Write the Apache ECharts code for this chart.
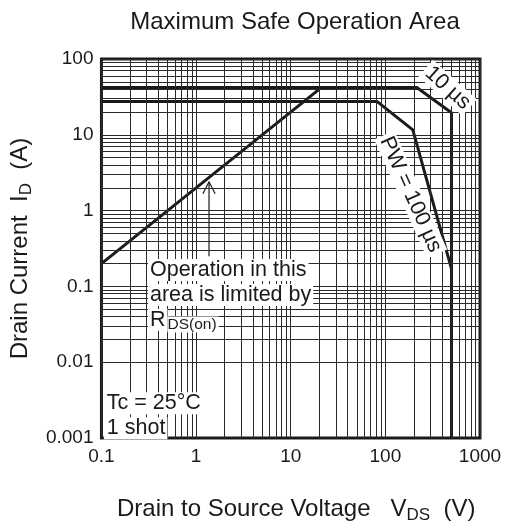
<!DOCTYPE html>
<html><head><meta charset="utf-8">
<script src="https://cdn.jsdelivr.net/npm/echarts@6/dist/echarts.min.js"></script>
<style>html,body{margin:0;padding:0;background:#fff}#c{width:505px;height:529px}</style>
</head><body><div id="c"></div>
<script>
// ---- data ----
const xTicks = [0.1, 1, 10, 100, 1000];
const yTicks = [0.001, 0.01, 0.1, 1, 10, 100];
const gridMult = [1, 2, 3, 4, 5, 6, 7, 8, 9];
const pw10us = [[0.1, 42], [215, 42], [500, 19.5], [500, 0.001]];
const pw100us = [[0.1, 27.4], [82, 27.4], [195, 11.6], [500, 0.17]];
const rdsLimit = [[0.1, 0.2], [21, 42]];
const arrowShaft = [[1.37, 0.25], [1.37, 2.4]];
const arrowHead = [[1.18, 1.67], [1.37, 2.4], [1.59, 1.67]];
const noteOperation = [0.31, 0.241];
const noteTc = [0.106, 0.0042];
const note10us = [455, 41.5];
const note100us = [185, 1.63];

// ---- build grid line values ----
const vLines = [];
for (let i = 0; i < xTicks.length - 1; i++) gridMult.forEach(m => vLines.push(+(xTicks[i] * m).toPrecision(3)));
vLines.push(xTicks[xTicks.length - 1]);
const hLines = [];
for (let i = 0; i < yTicks.length - 1; i++) gridMult.forEach(m => hLines.push(+(yTicks[i] * m).toPrecision(3)));
hLines.push(yTicks[yTicks.length - 1]);

const FONT = "'Liberation Sans', Arial, Helvetica, sans-serif";
const INK = '#1a1a1a';
const thick = { color: INK, width: 3 };

const chart = echarts.init(document.getElementById('c'), null, { renderer: 'canvas' });
const fmt = v => String(+(+v).toPrecision(3));

chart.setOption({
  animation: false,
  backgroundColor: '#fff',
  textStyle: { fontFamily: FONT },
  title: {
    text: 'Maximum Safe Operation Area',
    left: 290, top: 5, textAlign: 'center',
    textStyle: { fontFamily: FONT, fontSize: 24, fontWeight: 'normal', color: INK }
  },
  grid: { left: 100, right: 25, top: 59, bottom: 90, show: true, borderColor: INK, borderWidth: 3, backgroundColor: 'transparent' },
  xAxis: {
    type: 'log', logBase: 10, min: 0.1, max: 1000,
    axisLine: { show: false }, axisTick: { show: false }, splitLine: { show: false },
    axisLabel: { formatter: fmt, fontSize: 19, color: INK, margin: 9, fontFamily: FONT },
    name: '{t|Drain to Source Voltage   V}{s|DS}{t|  (V)}',
    nameLocation: 'middle', nameGap: 56,
    nameTextStyle: {
      padding: [0, 0, 0, 11],
      rich: {
        t: { fontSize: 24, lineHeight: 30, color: INK, fontFamily: FONT },
        s: { fontSize: 17, lineHeight: 17, verticalAlign: 'bottom', color: INK, fontFamily: FONT }
      }
    }
  },
  yAxis: {
    type: 'log', logBase: 10, min: 0.001, max: 100,
    axisLine: { show: false }, axisTick: { show: false }, splitLine: { show: false },
    axisLabel: { formatter: fmt, fontSize: 19, color: INK, margin: 8, fontFamily: FONT },
    name: '{t|Drain Current  I}{s|D}{t|  (A)}',
    nameLocation: 'middle', nameGap: 63, nameRotate: 90,
    nameTextStyle: {
      rich: {
        t: { fontSize: 24, lineHeight: 30, color: INK, fontFamily: FONT },
        s: { fontSize: 17, lineHeight: 17, verticalAlign: 'bottom', color: INK, fontFamily: FONT }
      }
    }
  },
  series: [
    {
      type: 'line', data: [], silent: true, z: 1,
      markLine: {
        silent: true, symbol: ['none', 'none'], label: { show: false },
        lineStyle: { color: '#2a2a2a', width: 1, type: 'solid' },
        data: vLines.map(v => ({ xAxis: v })).concat(hLines.map(v => ({ yAxis: v })))
      }
    },
    { type: 'line', data: pw10us, symbol: 'none', lineStyle: thick, z: 3, silent: true },
    { type: 'line', data: pw100us, symbol: 'none', lineStyle: thick, z: 3, silent: true },
    { type: 'line', data: rdsLimit, symbol: 'none', lineStyle: thick, z: 3, silent: true },
    { type: 'line', data: arrowShaft, symbol: 'none', lineStyle: { color: INK, width: 1.2 }, z: 3, silent: true },
    { type: 'line', data: arrowHead, symbol: 'none', lineStyle: { color: INK, width: 1.2 }, z: 3, silent: true },
    {
      type: 'line', data: [], z: 5, silent: true,
      markPoint: {
        silent: true, symbol: 'circle', symbolSize: 0,
        data: [
          {
            coord: noteOperation,
            label: {
              show: true, position: [0, 0], align: 'left', verticalAlign: 'top',
              formatter: '{a|Operation in this}\n{a|area is limited by}\n{a|R}{s|DS(on)}',
              rich: {
                a: { fontSize: 21.5, lineHeight: 25, color: INK, backgroundColor: '#fff', padding: [0, 2, 0, 2], fontFamily: FONT },
                s: { fontSize: 15.5, lineHeight: 15, verticalAlign: 'bottom', color: INK, backgroundColor: '#fff', padding: [0, 2, 0, 0], fontFamily: FONT }
              }
            }
          },
          {
            coord: noteTc,
            label: {
              show: true, position: [0, 0], align: 'left', verticalAlign: 'top',
              formatter: '{a|Tc = 25°C}\n{a|1 shot}',
              rich: {
                a: { fontSize: 21.5, lineHeight: 25, color: INK, backgroundColor: '#fff', padding: [0, 2, 0, 3], fontFamily: FONT }
              }
            }
          },
          {
            coord: note10us,
            label: {
              show: true, position: 'inside', rotate: -42,
              formatter: '10 µs', fontSize: 21.5, color: INK, backgroundColor: '#fff', padding: [0, 3], fontFamily: FONT
            }
          },
          {
            coord: note100us,
            label: {
              show: true, position: 'inside', rotate: -66,
              formatter: 'PW = 100 µs', fontSize: 21.5, color: INK, backgroundColor: '#fff', padding: [0, 3], fontFamily: FONT
            }
          }
        ]
      }
    }
  ]
});
</script></body></html>
